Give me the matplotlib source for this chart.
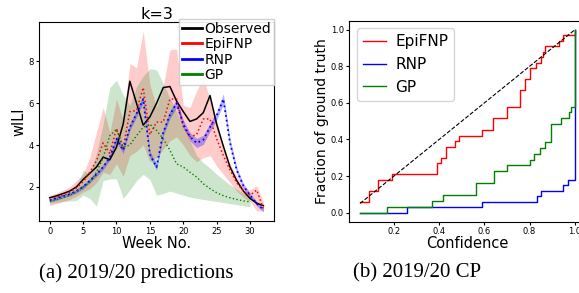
import matplotlib
matplotlib.use("Agg")
import matplotlib.pyplot as plt
from matplotlib.lines import Line2D

# ---- left panel: weekly wILI predictions (k=3) ----
weeks = list(range(33))
observed = [1.48, 1.57, 1.68, 1.8, 2.0, 2.35, 2.65, 2.95, 3.42, 3.3, 3.9, 5.0, 7.05, 6.0, 4.95, 5.35, 6.0,
            6.75, 6.8, 6.1, 5.6, 5.13, 5.25, 5.55, 6.37, 5.0, 3.95, 2.95, 2.3, 1.8, 1.45, 1.22, 1.1]
epifnp_mean = [1.4, 1.5, 1.6, 1.75, 1.95, 2.25, 2.7, 3.25, 4.1, 3.6, 4.8, 3.85, 5.6, 5.65, 6.75, 4.5, 5.1,
               5.1, 6.2, 6.2, 4.9, 4.4, 4.5, 5.25, 5.25, 4.3, 3.5, 2.8, 2.2, 1.8, 1.6, 1.85, 0.95]
epifnp_low = [1.1, 1.2, 1.3, 1.4, 1.55, 1.75, 1.9, 2.2, 2.7, 2.6, 3.1, 2.5, 3.5, 3.7, 4.0, 3.2, 3.4,
              3.8, 4.2, 4.4, 4.0, 3.5, 3.2, 3.4, 3.5, 3.0, 2.6, 2.2, 1.8, 1.5, 1.3, 0.85, 0.85]
epifnp_high = [1.6, 1.7, 1.85, 2.0, 2.3, 2.6, 3.4, 4.6, 5.8, 4.6, 6.2, 5.2, 7.9, 7.7, 9.45, 6.9, 5.8,
               6.8, 8.55, 8.6, 5.9, 5.8, 6.6, 7.2, 6.2, 5.2, 3.8, 3.1, 2.5, 2.0, 1.85, 2.05, 1.3]
rnp_mean = [1.35, 1.45, 1.55, 1.65, 1.8, 2.0, 2.3, 2.6, 2.95, 3.4, 4.3, 3.75, 4.85, 5.5, 6.2, 3.55, 2.95,
            4.6, 5.45, 6.0, 5.0, 4.4, 4.1, 4.25, 4.85, 5.4, 6.2, 4.1, 2.8, 2.05, 1.6, 1.2, 0.9]
rnp_half = [0.08, 0.08, 0.08, 0.08, 0.09, 0.1, 0.1, 0.1, 0.12, 0.12, 0.15, 0.15, 0.15, 0.15, 0.18, 0.15, 0.15,
            0.15, 0.18, 0.2, 0.2, 0.2, 0.22, 0.22, 0.2, 0.2, 0.25, 0.2, 0.15, 0.12, 0.1, 0.1, 0.1]
gp_weeks = list(range(31))
gp_mean = [1.3, 1.38, 1.48, 1.6, 1.75, 2.0, 2.2, 2.7, 3.4, 4.45, 4.75, 3.9, 4.0, 4.45, 4.85, 5.0,
           4.7, 4.3, 3.75, 3.1, 2.95, 2.7, 2.47, 2.15, 1.92, 1.72, 1.58, 1.48, 1.4, 1.33, 1.28]
gp_low = [1.2, 1.25, 1.3, 1.33, 1.35, 1.6, 1.45, 1.08, 2.3, 2.38, 2.38, 1.45, 1.85, 2.3, 2.6, 2.35,
          1.6, 1.68, 1.8, 1.7, 1.6, 1.52, 1.45, 1.4, 1.35, 1.3, 1.25, 1.2, 1.15, 1.1, 1.05]
gp_high = [1.45, 1.55, 1.65, 1.8, 2.0, 2.8, 2.6, 3.6, 5.0, 6.75, 7.1, 6.4, 5.9, 6.8, 7.3, 7.65,
           7.6, 6.95, 6.25, 5.6, 4.9, 4.2, 3.5, 3.15, 2.9, 2.6, 2.35, 2.1, 1.9, 1.7, 1.55]

# ---- right panel: confidence plot (step change points) ----
epifnp_conf = [0.05, 0.09, 0.13, 0.19, 0.39, 0.41, 0.43, 0.47, 0.49, 0.59, 0.64, 0.70, 0.76, 0.78,
               0.80, 0.83, 0.85, 0.86, 0.87, 0.93, 0.95, 1.0]
epifnp_frac = [0.06, 0.12, 0.18, 0.21, 0.27, 0.30, 0.36, 0.39, 0.42, 0.45, 0.52, 0.58, 0.67, 0.73,
               0.79, 0.82, 0.85, 0.88, 0.91, 0.94, 0.97, 1.0]
rnp_conf = [0.05, 0.26, 0.59, 0.835, 0.85, 0.95, 0.97, 0.99, 1.0]
rnp_frac = [0.0, 0.03, 0.06, 0.09, 0.12, 0.15, 0.18, 0.18, 1.0]
gp_conf = [0.05, 0.17, 0.37, 0.415, 0.565, 0.645, 0.70, 0.80, 0.82, 0.845, 0.87, 0.895, 0.94,
           0.975, 0.985, 1.0]
gp_frac = [0.0, 0.032, 0.065, 0.097, 0.161, 0.226, 0.258, 0.29, 0.323, 0.355, 0.387, 0.484, 0.516,
           0.548, 0.58, 1.0]
ideal = [0.05, 1.0]

fig = plt.figure(figsize=(5.79, 2.93), dpi=100)
ax1 = fig.add_axes([0.0674, 0.2457, 0.406, 0.679])
ax2 = fig.add_axes([0.6033, 0.2433, 0.4078, 0.686])

lo = [m - h for m, h in zip(rnp_mean, rnp_half)]
hi = [m + h for m, h in zip(rnp_mean, rnp_half)]
ax1.fill_between(weeks, epifnp_low, epifnp_high, color="red", alpha=0.2, lw=0)
ax1.fill_between(gp_weeks, gp_low, gp_high, color="green", alpha=0.2, lw=0)
ax1.fill_between(weeks, lo, hi, color="blue", alpha=0.3, lw=0)
ax1.plot(weeks, observed, color="black", lw=1.1)
ax1.plot(weeks, epifnp_mean, color="red", ls=":", lw=1.1)
ax1.plot(weeks, rnp_mean, color="blue", ls=":", lw=1.3)
ax1.plot(gp_weeks, gp_mean, color="green", ls=":", lw=1.0)
ax1.set_xticks(range(0, 31, 5))
ax1.set_yticks([2, 4, 6, 8])
ax1.tick_params(labelsize=6, length=2.5, pad=1.5)
ax1.set_xlabel("Week No.", fontsize=10.5, labelpad=0)
ax1.set_ylabel("wILI", fontsize=10.5, labelpad=1)
ax1.set_title("k=3", fontsize=11.5, pad=2.5)
handles = [Line2D([], [], color="black", lw=2), Line2D([], [], color="red", lw=2),
           Line2D([], [], color="blue", lw=2), Line2D([], [], color="green", lw=2)]
ax1.legend(handles, ["Observed", "EpiFNP", "RNP", "GP"], loc="upper right", bbox_to_anchor=(1.0, 1.015),
           borderaxespad=0, fontsize=10, handlelength=1.5, handletextpad=0.15, labelspacing=0.1,
           borderpad=0.2, fancybox=False, framealpha=0.9)

ax2.step(epifnp_conf, epifnp_frac, where="post", color="red", lw=1, label="EpiFNP")
ax2.step(rnp_conf, rnp_frac, where="post", color="blue", lw=1, label="RNP")
ax2.step(gp_conf, gp_frac, where="post", color="green", lw=1, label="GP")
ax2.plot(ideal, ideal, "k--", lw=0.8)
ax2.set_xticks([0.2, 0.4, 0.6, 0.8, 1.0])
ax2.set_yticks([0.0, 0.2, 0.4, 0.6, 0.8, 1.0])
ax2.tick_params(labelsize=6, length=2.5, pad=1.5)
ax2.set_xlabel("Confidence", fontsize=10.5, labelpad=0)
ax2.set_ylabel("Fraction of ground truth", fontsize=10, labelpad=1)
ax2.legend(loc="upper left", fontsize=11, handlelength=1.5, handletextpad=0.6)

fig.text(0.236, 0.068, "(a) 2019/20 predictions", family="Liberation Serif", fontsize=15,
         ha="center", va="center")
fig.text(0.721, 0.068, "(b) 2019/20 CP", family="Liberation Serif", fontsize=15,
         ha="center", va="center")

fig.savefig("out.png", dpi=100)
